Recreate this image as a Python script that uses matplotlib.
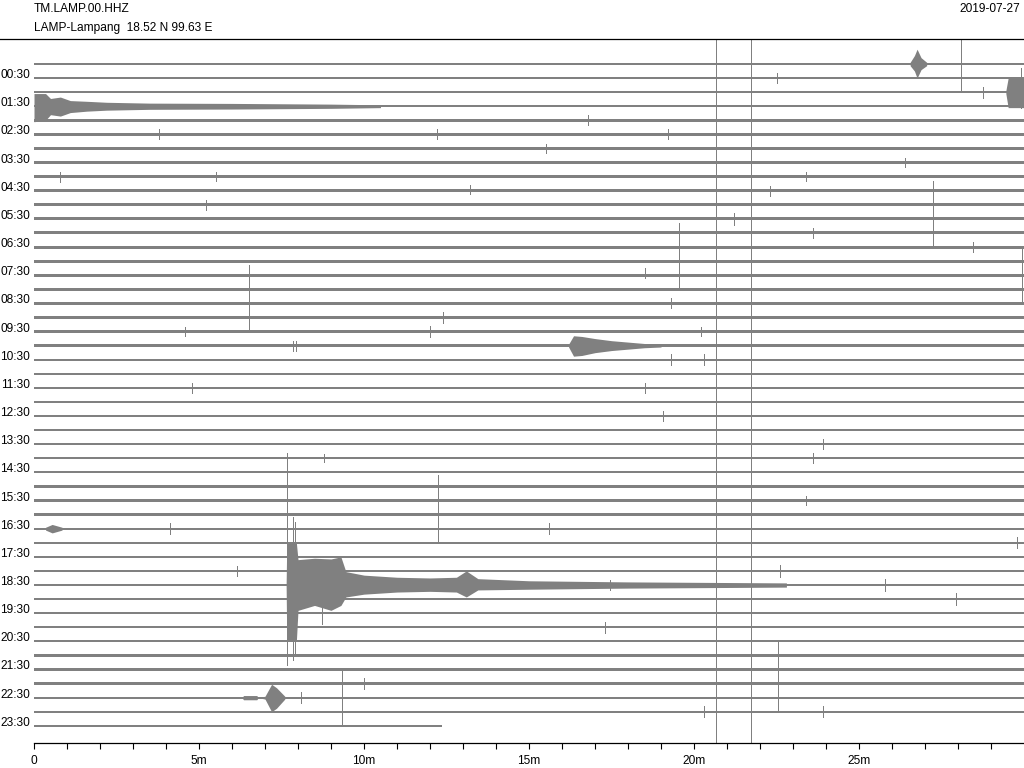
import numpy as np
import matplotlib
matplotlib.use("Agg")
import matplotlib.pyplot as plt
from matplotlib.lines import Line2D

plt.rcParams['font.family'] = ['Liberation Sans', 'DejaVu Sans']
plt.rcParams['font.size'] = 8.6

GREY = '#808080'

station = "TM.LAMP.00.HHZ"
site = "LAMP-Lampang  18.52 N 99.63 E"
day = "2019-07-27"

# one trace every 30 minutes, labels on the ":30" traces
hour_labels = ["00:30", "01:30", "02:30", "03:30", "04:30", "05:30", "06:30", "07:30",
               "08:30", "09:30", "10:30", "11:30", "12:30", "13:30", "14:30", "15:30",
               "16:30", "17:30", "18:30", "19:30", "20:30", "21:30", "22:30", "23:30"]
label_rows = [1, 3, 5, 7, 9, 11, 13, 15, 17, 19, 21, 23,
              25, 27, 29, 31, 33, 35, 37, 39, 41, 43, 45, 47]
n_traces = 48
last_end = 12.35  # minutes recorded in the last trace

# background noise half-width per trace (in trace spacings)
noise = [0.085, 0.085, 0.085, 0.085, 0.09,
         0.105, 0.105, 0.105, 0.105, 0.105, 0.105, 0.105, 0.105, 0.105, 0.105,
         0.105, 0.105, 0.105, 0.105, 0.105,
         0.08, 0.08, 0.08, 0.08, 0.08, 0.08, 0.08, 0.08, 0.08, 0.08, 0.08, 0.08,
         0.08, 0.08, 0.08, 0.08, 0.08, 0.08, 0.08, 0.08, 0.08, 0.08, 0.08, 0.08,
         0.08, 0.08, 0.08, 0.08]

# wave packets: trace -> (minutes, amplitude up, amplitude down)
packets = {
    0: ([26.55, 26.68, 26.76, 26.88, 27.05],
        [0.12, 0.6, 1.05, 0.45, 0.12],
        [0.12, 0.5, 1.0, 0.4, 0.12]),
    2: ([29.45, 29.52, 30.0],
        [0.1, 1.0, 1.0],
        [0.1, 1.1, 1.1]),
    3: ([0.0, 0.35, 0.5, 0.8, 1.1, 1.6, 2.2, 3.5, 6.0, 9.0, 10.5],
        [0.9, 0.9, 0.55, 0.65, 0.4, 0.35, 0.28, 0.22, 0.2, 0.15, 0.1],
        [1.1, 1.0, 0.6, 0.7, 0.45, 0.35, 0.28, 0.22, 0.2, 0.15, 0.1]),
    20: ([16.2, 16.35, 16.6, 17.0, 17.5, 18.0, 18.5, 19.0],
         [0.1, 0.7, 0.65, 0.5, 0.35, 0.25, 0.15, 0.1],
         [0.1, 0.75, 0.7, 0.5, 0.35, 0.25, 0.15, 0.1]),
    33: ([0.35, 0.55, 0.85],
         [0.1, 0.3, 0.1],
         [0.1, 0.3, 0.1]),
    37: ([7.64, 7.66, 7.95, 8.0, 8.5, 9.0, 9.3, 9.45, 10.0, 11.0, 12.0, 12.8,
          13.1, 13.45, 15.0, 18.0, 22.8],
         [0.0, 3.0, 3.0, 1.8, 1.9, 1.85, 2.0, 0.95, 0.7, 0.55, 0.5, 0.55,
          1.0, 0.45, 0.3, 0.22, 0.15],
         [0.0, 4.0, 4.0, 1.8, 1.45, 1.8, 1.45, 0.85, 0.65, 0.5, 0.45, 0.5,
          0.85, 0.35, 0.3, 0.22, 0.15]),
    45: ([6.3, 6.35, 6.75, 6.8, 7.0, 7.2, 7.35, 7.6],
         [0.0, 0.15, 0.15, 0.0, 0.1, 0.95, 0.7, 0.1],
         [0.0, 0.15, 0.15, 0.0, 0.1, 1.0, 0.75, 0.1]),
}

# single spikes: minute, trace, amplitude up, amplitude down
spike_min = [20.66, 21.74, 28.08, 6.52, 27.25, 19.55, 29.93, 12.24, 9.33, 22.55,
             7.67, 7.85, 7.92, 8.73, 29.92,
             3.8, 12.2, 0.8, 5.5, 13.2, 5.2, 22.5, 28.75, 16.8, 19.2, 15.5, 26.4,
             23.4, 22.3, 21.2, 23.6, 28.45, 18.5, 4.57, 12.0, 12.4, 4.8, 8.8, 19.3,
             20.2, 19.3, 20.3, 18.5, 19.06, 23.9, 23.6, 23.4, 4.12, 6.14, 15.6, 29.8,
             22.6, 17.45, 25.8, 27.95, 17.3, 20.3, 23.9, 8.1, 10.0, 7.85, 7.95]
spike_row = [24, 25, 0, 17, 12, 15, 15, 32, 45, 44,
             37, 37, 37, 37, 2,
             5, 5, 8, 8, 9, 10, 1, 2, 4, 5, 6, 7,
             8, 9, 11, 12, 13, 15, 19, 19, 18, 23, 28, 17,
             19, 21, 21, 23, 25, 27, 28, 31, 33, 36, 33, 34,
             36, 37, 37, 38, 40, 46, 46, 45, 44, 20, 20]
spike_up = [40, 40, 1.9, 2.7, 3.7, 3.7, 1.9, 2.8, 2.0, 3.0,
            9.4, 4.8, 4.5, 1.4, 1.7,
            0.35, 0.35, 0.35, 0.3, 0.4, 0.35, 0.35, 0.4, 0.35, 0.35, 0.35, 0.35,
            0.3, 0.35, 0.45, 0.35, 0.35, 0.5, 0.3, 0.4, 0.4, 0.35, 0.3, 0.35,
            0.35, 0.4, 0.4, 0.35, 0.35, 0.35, 0.35, 0.35, 0.4, 0.35, 0.4, 0.4,
            0.4, 0.35, 0.4, 0.4, 0.4, 0.4, 0.4, 0.4, 0.4, 0.35, 0.35]
spike_down = [40, 40, 1.9, 2.06, 1.07, 1.07, 1.9, 2.0, 2.0, 1.85,
              5.7, 5.3, 5.0, 2.8, 1.1,
              0.35, 0.35, 0.35, 0.3, 0.2, 0.35, 0.35, 0.45, 0.35, 0.35, 0.35, 0.35,
              0.3, 0.35, 0.45, 0.35, 0.35, 0.2, 0.3, 0.4, 0.4, 0.35, 0.3, 0.35,
              0.35, 0.4, 0.4, 0.35, 0.35, 0.35, 0.35, 0.35, 0.4, 0.35, 0.4, 0.4,
              0.4, 0.35, 0.4, 0.4, 0.4, 0.4, 0.4, 0.4, 0.4, 0.35, 0.35]

xtick_major = [0, 5, 10, 15, 20, 25]
xtick_labels = ["0", "5m", "10m", "15m", "20m", "25m"]

fig = plt.figure(figsize=(10.24, 7.68), dpi=100)
ax = fig.add_axes([34 / 1024, 25 / 768, 1 - 34 / 1024, (743 - 38.5) / 768])

# background traces
for r in range(n_traces):
    end = 30 if r < n_traces - 1 else last_end
    ax.fill_between([0, end], r - noise[r], r + noise[r], color=GREY, lw=0,
                    antialiased=False)

# wave packets
for r, (m, up, dn) in packets.items():
    m = np.array(m)
    ax.fill_between(m, r - np.array(up), r + np.array(dn), color=GREY, lw=0,
                    antialiased=False)

# spikes
sr = np.array(spike_row)
ax.vlines(spike_min, sr - np.array(spike_up), sr + np.array(spike_down),
          colors=GREY, lw=0.72, antialiased=False)

ax.set_xlim(0, 30)
ax.set_ylim(48.22, -1.81)

ax.set_xticks(xtick_major, xtick_labels)
ax.set_xticks([m for m in range(1, 30) if m % 5], minor=True)
ax.tick_params(axis='x', which='both', length=4, width=0.8, color='black', pad=5,
               labelsize=8.6)

ax.set_yticks(label_rows, hour_labels)
ax.tick_params(axis='y', length=0, pad=3, labelsize=8.6)
for lab in ax.get_yticklabels():
    lab.set_verticalalignment('baseline')

for s in ['left', 'right', 'top']:
    ax.spines[s].set_visible(False)
ax.spines['bottom'].set_linewidth(0.9)

fig.add_artist(Line2D([0, 1], [1 - 38.5 / 768, 1 - 38.5 / 768], color='black', lw=0.9))
fig.text(34 / 1024, 1 - 12 / 768, station, ha='left', va='baseline', fontsize=8.6)
fig.text(34 / 1024, 1 - 31.5 / 768, site, ha='left', va='baseline', fontsize=8.6)
fig.text(1020 / 1024, 1 - 12 / 768, day, ha='right', va='baseline', fontsize=8.6)

fig.savefig("out.png", dpi=100)
